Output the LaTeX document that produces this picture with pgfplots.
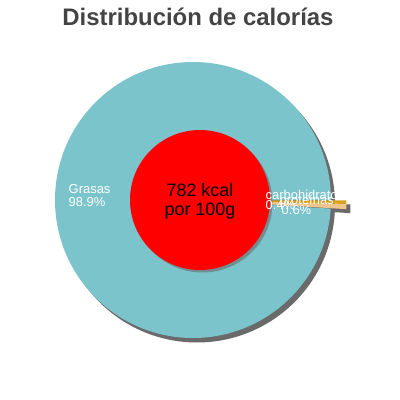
\documentclass[border=0pt]{standalone}
\usepackage{fontspec}
\setmainfont{Liberation Sans}
\usepackage{pgfplots}
\usepackage{pgfplotstable}
\pgfplotsset{compat=1.18}

\definecolor{grasas}{HTML}{7BC4CC}
\definecolor{carbo}{HTML}{D9A21B}
\definecolor{prot}{HTML}{EFC58E}
\definecolor{sombra}{HTML}{6A6A6A}
\definecolor{titulo}{HTML}{444444}

% kcal share per macronutrient (%)
\pgfplotstableread[col sep=comma]{
nombre,valor
Grasas,98.9
carbohidratos,0.4
proteinas,0.6
}\calorias

\begin{document}
\begin{tikzpicture}
\pgfplotstablegetelem{0}{valor}\of\calorias \let\vG\pgfplotsretval
\pgfplotstablegetelem{1}{valor}\of\calorias \let\vC\pgfplotsretval
\pgfplotstablegetelem{2}{valor}\of\calorias \let\vP\pgfplotsretval
\pgfmathsetmacro\total{\vG+\vC+\vP}
\pgfmathsetmacro\aG{\vG/\total*360}
\pgfmathsetmacro\aP{\aG+\vP/\total*360}
\def\R{138bp}
\begin{axis}[
  width=400bp, height=400bp, scale only axis,
  xmin=0, xmax=400, ymin=0, ymax=400,
  hide axis, clip=false,
]
  % full 400x400 canvas
  \path (axis cs:0,0) rectangle (axis cs:400,400);
  % shadows
  \fill[sombra] (axis cs:197,195.5) circle[radius=\R];
  \fill[sombra] (axis cs:212.5,195.5) -- ++(\aG:\R) arc[start angle=\aG, end angle=360, radius=\R] -- cycle;
  % big slice
  \fill[grasas] (axis cs:193,200) -- ++(0:\R) arc[start angle=0, end angle=\aG, radius=\R] -- cycle;
  % exploded small slices
  \fill[prot] (axis cs:208.5,199.5) -- ++(\aG:\R) arc[start angle=\aG, end angle=\aP, radius=\R] -- cycle;
  \fill[carbo] (axis cs:208.5,199.5) -- ++(\aP:\R) arc[start angle=\aP, end angle=360, radius=\R] -- cycle;
  % centre disc
  \fill[sombra, opacity=0.6] (axis cs:202.5,197.5) circle[radius=70bp];
  \fill[red] (axis cs:200,200) circle[radius=70bp];
  \node[anchor=base, font=\fontsize{18}{20}\selectfont] at (axis cs:200,204) {782 kcal};
  \node[anchor=base, font=\fontsize{18}{20}\selectfont] at (axis cs:200,184.5) {por 100g};
  % labels
  \begin{scope}[every node/.style={anchor=base west, inner sep=0pt, text=white, font=\fontsize{13}{13}\selectfont}]
    \node at (axis cs:68.5,206.3) {Grasas};
    \node at (axis cs:68.5,193.7) {98.9\%};
    \node at (axis cs:265.5,201) {carbohidratos};
    \node at (axis cs:265.5,190.5) {0.4\%};
    \node at (axis cs:279.5,196) {proteínas};
    \node at (axis cs:281.5,185.5) {0.6\%};
  \end{scope}
  \node[anchor=base, inner sep=0pt, text=titulo, font=\fontsize{24}{28}\bfseries] at (axis cs:198,375) {Distribución de calorías};
\end{axis}
\end{tikzpicture}
\end{document}
